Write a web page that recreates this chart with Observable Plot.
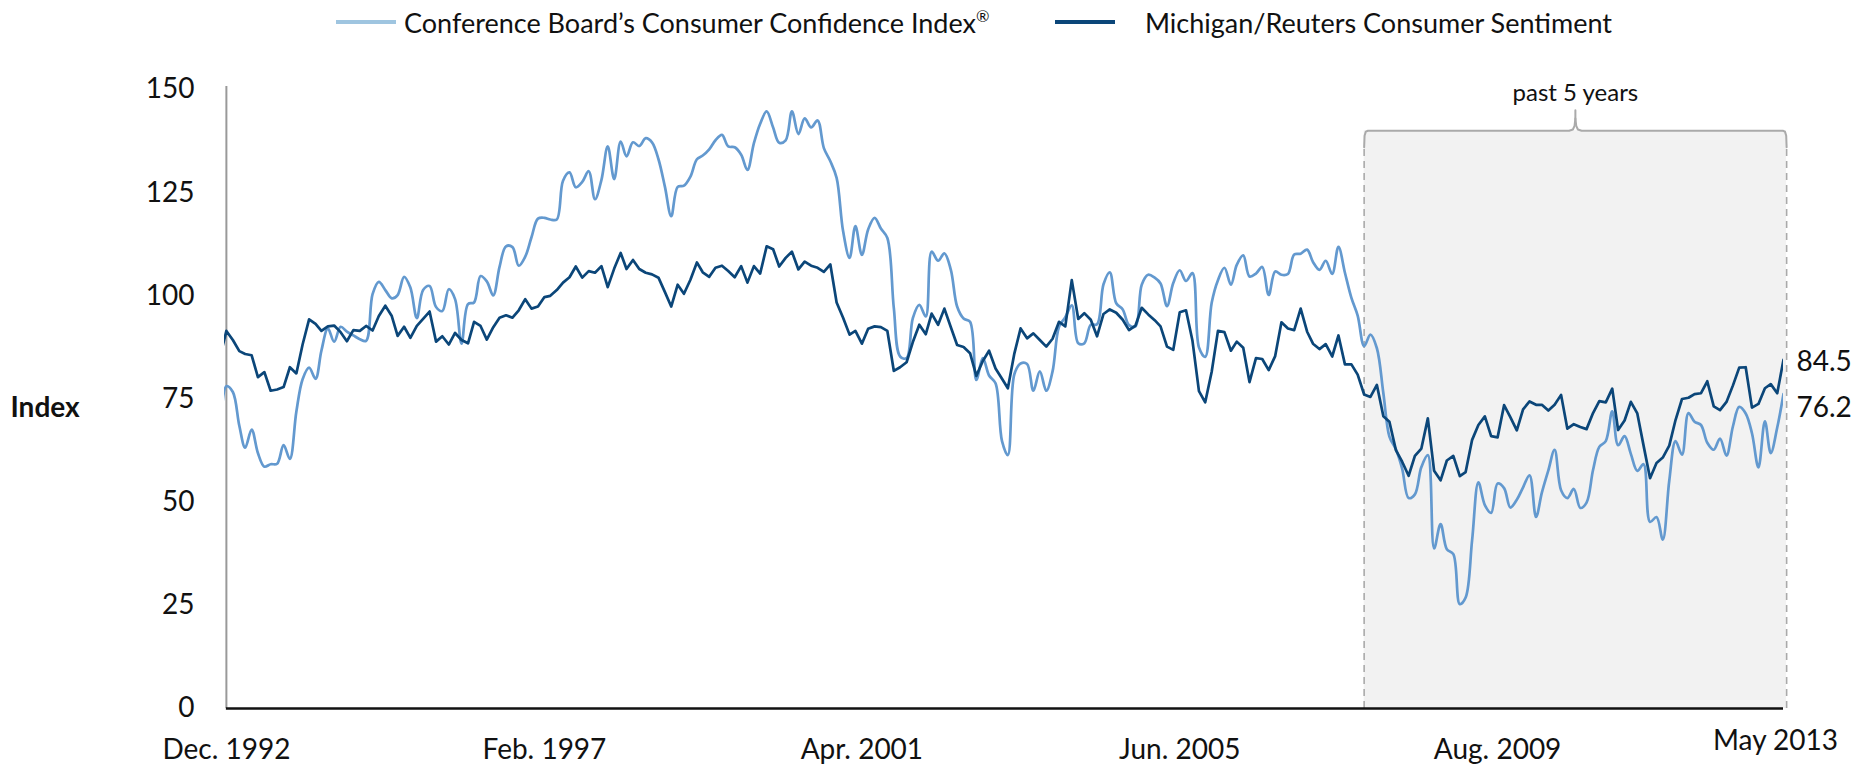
<!DOCTYPE html>
<html><head><meta charset="utf-8">
<script src="https://cdn.jsdelivr.net/npm/d3@7"></script>
<script src="https://cdn.jsdelivr.net/npm/@observablehq/plot@0.6"></script>
<style>
body{margin:0;background:#fff;font-family:Lato,"Open Sans",sans-serif;color:#111;}
#wrap{position:relative;width:1864px;height:768px;overflow:hidden;}
#legend{position:relative;height:44px;}
.item{position:absolute;top:0;height:44px;display:flex;align-items:center;font-size:27px;white-space:nowrap;}
.sw{display:inline-block;width:60px;height:4px;}
sup{font-size:60%;vertical-align:0.7em;line-height:0;}
</style></head><body>
<div id="wrap"><div id="legend"></div><div id="chart"></div></div>
<script>
// ---- data ----
const startYear = 1992, startMonth = 10; // first value = Nov 1992 (month index 0-based)
const seriesNames = ["Conference Board\u2019s Consumer Confidence Index", "Michigan/Reuters Consumer Sentiment"];
const seriesMarks = ["\u00AE", ""];
const confidence = [
65.6,78.1,
76.7,68.5,63.2,67.6,61.9,58.6,59.2,59.3,63.8,60.5,71.9,79.8,
82.6,79.9,86.7,92.1,88.9,92.5,91.3,90.4,89.5,89.1,100.4,103.4,
101.4,99.4,100.2,104.6,102.0,94.6,101.4,102.4,97.3,96.3,101.6,99.2,
88.4,98.0,98.4,104.8,103.5,100.1,107.0,112.0,111.8,107.3,109.5,114.2,
118.7,118.9,118.5,118.5,127.9,129.9,126.3,127.6,130.2,123.4,128.1,136.2,
128.3,137.4,133.8,137.2,136.3,138.2,137.2,133.1,126.4,119.3,126.4,126.7,
128.9,133.1,134.0,135.5,137.7,139.0,136.2,136.0,134.2,130.5,137.0,141.7,
144.7,140.8,137.1,137.7,144.7,139.2,143.0,140.8,142.5,135.8,132.6,128.6,
115.7,109.2,116.9,109.9,116.1,118.9,116.3,114.0,97.0,85.3,84.9,94.6,
97.8,95.0,110.7,108.5,110.3,106.3,97.4,94.5,93.7,79.6,84.9,80.7,
78.8,64.8,61.4,81.0,83.6,83.5,77.0,81.7,77.0,81.7,92.5,94.8,
97.7,88.5,88.5,93.0,93.1,102.8,105.7,98.2,96.7,92.9,92.6,102.7,
105.1,104.4,103.0,97.5,103.1,106.2,103.6,105.5,87.5,85.2,98.3,103.8,
106.8,102.7,107.5,109.8,104.7,105.4,107.0,100.2,105.9,105.1,105.3,110.0,
110.2,111.2,108.2,106.3,108.5,105.3,111.9,105.6,99.5,95.2,87.8,90.6,
87.3,76.4,65.9,62.8,58.1,51.0,51.9,58.5,61.4,38.8,44.7,38.6,
37.4,25.3,26.9,40.8,54.8,49.3,47.4,54.5,53.4,48.7,50.6,53.6,
56.5,46.4,52.3,57.7,62.7,52.9,51.0,53.2,48.6,49.9,57.8,63.4,
64.8,72.0,63.8,66.0,61.7,57.6,59.2,45.2,46.4,40.9,55.2,64.8,
61.5,71.6,69.5,68.7,64.4,62.7,65.4,61.3,68.4,73.1,71.5,66.7,
58.4,69.6,61.9,68.1,76.2
];
const sentiment = [
85.3,91.5,
89.3,86.6,85.9,85.6,80.3,81.5,77.0,77.3,77.9,82.7,81.2,88.2,
94.3,93.2,91.5,92.6,92.8,91.2,89.0,91.7,91.5,92.7,91.6,95.1,
97.6,95.1,90.3,92.5,89.8,92.7,94.4,96.2,88.9,90.2,88.2,91.0,
89.3,88.5,93.7,92.7,89.4,92.4,94.7,95.3,94.7,96.5,99.2,96.9,
97.4,99.7,100.0,101.4,103.2,104.5,107.1,104.4,106.0,105.6,107.2,102.1,
106.6,110.4,106.5,108.7,106.5,105.6,105.2,104.4,100.9,97.4,102.7,100.5,
103.9,108.1,105.7,104.6,106.8,107.3,106.0,104.5,107.2,103.2,107.2,105.4,
112.0,111.3,107.1,109.2,110.7,106.4,108.3,107.3,106.8,105.8,107.6,98.4,
94.7,90.6,91.5,88.4,92.0,92.6,92.4,91.5,81.8,82.7,83.9,88.8,
93.0,90.7,95.7,93.0,96.9,92.4,88.1,87.6,86.1,80.6,84.2,86.7,
82.4,79.9,77.6,86.0,92.1,89.7,90.9,89.3,87.7,89.6,93.7,92.6,
103.8,94.4,95.8,94.2,90.2,95.6,96.7,95.9,94.2,91.7,92.8,97.1,
95.5,94.1,92.6,87.7,86.9,96.0,96.5,89.1,76.9,74.2,81.6,91.5,
91.2,86.7,88.9,87.4,79.1,84.9,84.7,82.0,85.4,93.6,92.1,91.7,
96.9,91.3,88.4,87.1,88.3,85.3,90.4,83.4,83.4,80.9,76.1,75.5,
78.4,70.8,69.5,62.6,59.8,56.4,61.2,63.0,70.3,57.6,55.3,60.1,
61.2,56.3,57.3,65.1,68.7,70.8,66.0,65.7,73.5,70.6,67.4,72.5,
74.4,73.6,73.6,72.2,73.6,76.0,67.8,68.9,68.2,67.7,71.6,74.5,
74.2,77.5,67.5,69.8,74.3,71.5,63.7,55.8,59.5,60.8,63.7,69.9,
75.0,75.3,76.2,76.4,79.3,73.2,72.3,74.3,78.3,82.6,82.7,72.9,
73.8,77.6,78.6,76.4,84.5
];
const tickDates = ["1992-12-01","1997-02-01","2001-04-01","2005-06-01","2009-08-01"];
const tickLabels = ["Dec. 1992","Feb. 1997","Apr. 2001","Jun. 2005","Aug. 2009"];
const lastTickDate = ["2013-05-01"];
const lastTickLabel = ["May 2013"];
const yTicks = [0,25,50,75,100,125,150];
const shadeStart = "2007-11-01", shadeEnd = "2013-05-16";
const shadeTop = 140, notchTop = 145, shadeLabelY = 149;
const shadeLabel = "past 5 years";
const yTitle = "Index", yTitleValue = 72.7;

// ---- build ----
const colors = ["#6399CF", "#0B4679"];
const legendColors = ["#9FC5E0", "#0B4679"];
const parse = s => new Date(s + "T00:00:00Z");
const monthDate = i => new Date(Date.UTC(startYear, startMonth + i, 1));
const conf = confidence.map((v, i) => ({date: monthDate(i), value: v}));
const sent = sentiment.map((v, i) => ({date: monthDate(i), value: v}));
const lastConf = conf[conf.length - 1], lastSent = sent[sent.length - 1];

const s0 = parse(shadeStart), s1 = parse(shadeEnd);
const day = 86400000;
const mid = new Date((+s0 + +s1) / 2);
const off = (d, days) => new Date(+d + days * day);
const bracket = [
  [off(s0,0), shadeTop-4], [off(s0,2), shadeTop-1.2], [off(s0,8), shadeTop-0.2], [off(s0,18), shadeTop],
  [off(mid,-30), shadeTop], [off(mid,-12), shadeTop+0.3], [off(mid,-4), shadeTop+1.2], [off(mid,0), shadeTop+3], [off(mid,0), notchTop]
];
const bracketR = [
  [off(s1,0), shadeTop-4], [off(s1,-2), shadeTop-1.2], [off(s1,-8), shadeTop-0.2], [off(s1,-18), shadeTop],
  [off(mid,30), shadeTop], [off(mid,12), shadeTop+0.3], [off(mid,4), shadeTop+1.2], [off(mid,0), shadeTop+3]
];

// legend
const legend = document.getElementById("legend");
[[336, 0, 8], [1055, 1, 30]].forEach(([left, k, gap]) => {
  const it = document.createElement("div");
  it.className = "item"; it.style.left = left + "px";
  it.innerHTML = `<span class="sw" style="background:${legendColors[k]};margin-right:${gap}px"></span><span>${seriesNames[k]}${seriesMarks[k] ? "<sup>" + seriesMarks[k] + "</sup>" : ""}</span>`;
  legend.appendChild(it);
});

const chart = Plot.plot({
  width: 1864, height: 724,
  marginLeft: 224, marginRight: 81, marginTop: 45, marginBottom: 60,
  style: {fontFamily: "Lato, 'Open Sans', sans-serif", fontSize: "28px", color: "#111", background: "#fff", overflow: "visible"},
  x: {type: "utc", domain: [new Date(Date.UTC(1992,10,22)), new Date(Date.UTC(2013,4,1))], axis: null},
  y: {domain: [0, 150], ticks: yTicks, tickSize: 0, tickPadding: 30, label: null, tickFormat: d => d},
  marks: [
    Plot.rect([0], {x1: () => s0, x2: () => s1, y1: 0, y2: shadeTop, fill: "#f2f2f2"}),
    Plot.ruleX([s0, s1], {y1: 0, y2: shadeTop - 4, stroke: "#aaa", strokeWidth: 1.6, strokeDasharray: "7,5"}),
    Plot.line(bracket, {x: d => d[0], y: d => d[1], stroke: "#aaa", strokeWidth: 2, curve: "linear"}),
    Plot.line(bracketR, {x: d => d[0], y: d => d[1], stroke: "#aaa", strokeWidth: 2, curve: "linear"}),
    Plot.text([shadeLabel], {x: () => mid, y: shadeLabelY, fontSize: 24}),
    Plot.ruleX([parse(tickDates[0])], {y1: 0, y2: 150.7, stroke: "#999", strokeWidth: 2}),
    Plot.line(conf, {x: "date", y: "value", stroke: colors[0], strokeWidth: 2.7, curve: "catmull-rom", clip: true}),
    Plot.line(sent, {x: "date", y: "value", stroke: colors[1], strokeWidth: 2.7, curve: "linear", clip: true}),
    Plot.ruleY([0], {x1: () => parse(tickDates[0]), x2: () => lastSent.date, stroke: "#111", strokeWidth: 2.6}),
    Plot.text(tickDates.map(parse), {x: d => d, text: (d, i) => tickLabels[i], frameAnchor: "bottom", dy: 50}),
    Plot.text(lastTickDate.map(parse), {x: d => d, text: (d, i) => lastTickLabel[i], frameAnchor: "bottom", dy: 41, dx: -8}),
    Plot.text([yTitle], {y: () => yTitleValue, frameAnchor: "left", textAnchor: "start", dx: -214, fontWeight: "bold"}),
    Plot.text([lastSent], {x: "date", y: "value", text: d => d.value.toFixed(1), textAnchor: "start", dx: 13, dy: 2}),
    Plot.text([lastConf], {x: "date", y: "value", text: d => d.value.toFixed(1), textAnchor: "start", dx: 13, dy: 14})
  ]
});
document.getElementById("chart").appendChild(chart);
</script>
</body></html>
